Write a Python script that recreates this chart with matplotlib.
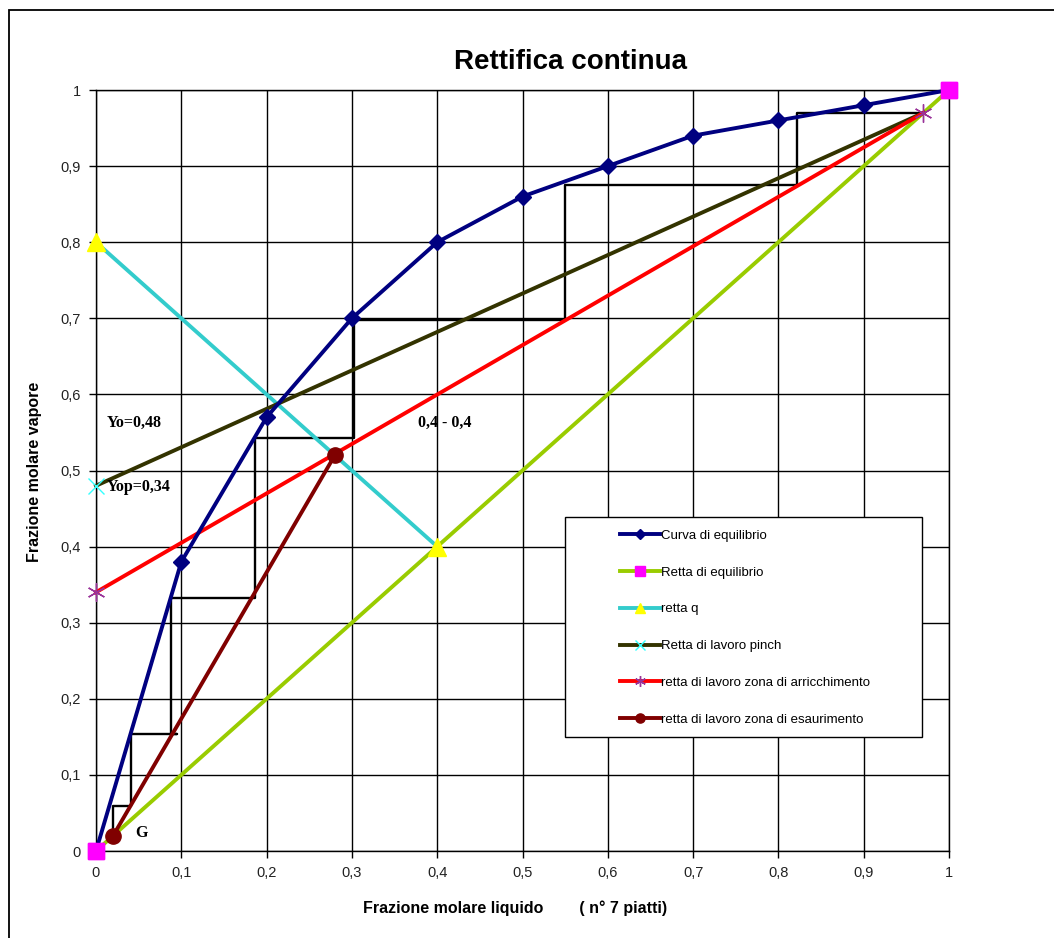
import matplotlib.pyplot as plt
from matplotlib.patches import Rectangle
import numpy as np

plt.rcParams['font.family'] = ['Liberation Sans', 'DejaVu Sans']

# curva di equilibrio
eq_x = [0, 0.1, 0.2, 0.3, 0.4, 0.5, 0.6, 0.7, 0.8, 0.9, 1.0]
eq_y = [0, 0.38, 0.57, 0.70, 0.80, 0.86, 0.90, 0.94, 0.96, 0.98, 1.0]

# retta di equilibrio (diagonale)
diag_x = [0, 1]
diag_y = [0, 1]

# retta q
q_x = [0, 0.4]
q_y = [0.8, 0.4]

# retta di lavoro pinch
pinch_x = [0, 0.97]
pinch_y = [0.48, 0.97]

# retta di lavoro zona di arricchimento
arr_x = [0, 0.97]
arr_y = [0.34, 0.97]

# retta di lavoro zona di esaurimento
esa_x = [0.02, 0.28]
esa_y = [0.02, 0.52]

# gradini (7 piatti)
step_x = [0.97, 0.822, 0.822, 0.55, 0.55, 0.302, 0.302, 0.186, 0.186,
          0.088, 0.088, 0.095, 0.041, 0.041, 0.020, 0.020]
step_y = [0.97, 0.97, 0.875, 0.875, 0.698, 0.698, 0.543, 0.543, 0.332,
          0.332, 0.154, 0.154, 0.154, 0.059, 0.059, 0.02]

ticks = np.arange(0, 1.01, 0.1)
tick_labels = ['0', '0,1', '0,2', '0,3', '0,4', '0,5', '0,6', '0,7', '0,8', '0,9', '1']

fig = plt.figure(figsize=(10.54, 9.38), dpi=100)
ax = fig.add_axes([96/1054, 87/938, 853/1054, 761/938])

# bordo dell'area grafico
fig.patches.append(Rectangle((9/1054, -0.1), 1.2, 0.1 + 928/938, transform=fig.transFigure,
                             fill=False, edgecolor='black', lw=1.3))

ax.set_xlim(0, 1)
ax.set_ylim(0, 1)
ax.set_xticks(ticks)
ax.set_yticks(ticks)
ax.set_xticklabels(tick_labels, fontsize=10.5, color='#222222')
ax.set_yticklabels(tick_labels, fontsize=10.5, color='#222222')
ax.tick_params(direction='out', length=5, width=1, pad=6)
ax.grid(True, color='black', lw=1)
for s in ax.spines.values():
    s.set_color('black')
    s.set_linewidth(1)

lw = 2.8
ax.plot(step_x, step_y, color='black', lw=1.7, zorder=3)
ax.plot(diag_x, diag_y, color='#99CC00', lw=lw, marker='s', ms=12,
        mfc='#FF00FF', mec='#FF00FF', clip_on=False, zorder=4, label='Retta di equilibrio')
ax.plot(q_x, q_y, color='#33CCCC', lw=lw, marker='^', ms=13,
        mfc='#FFFF00', mec='#FFFF00', clip_on=False, zorder=4, label='retta q')
ax.plot(pinch_x, pinch_y, color='#333300', lw=lw, marker='x', ms=11, mew=1, markevery=[0],
        mfc='#33FFFF', mec='#33FFFF', clip_on=False, zorder=4, label='Retta di lavoro pinch')
ax.plot(arr_x, arr_y, color='#FF0000', lw=lw, marker=(6, 2, 0), ms=13, mew=1,
        mec='#993399', clip_on=False, zorder=4, label='retta di lavoro zona di arricchimento')
ax.plot(esa_x, esa_y, color='#800000', lw=lw, marker='o', ms=11,
        mfc='#800000', mec='#800000', clip_on=False, zorder=4, label='retta di lavoro zona di esaurimento')
ax.plot(eq_x, eq_y, color='#000080', lw=lw, marker='D', ms=8.5,
        mfc='#000080', mec='#000080', clip_on=False, zorder=5, label='Curva di equilibrio')
# quadrati sopra la curva
ax.plot(diag_x, diag_y, ls='none', marker='s', ms=12, mfc='#FF00FF', mec='#FF00FF',
        clip_on=False, zorder=6)

handles, labels = ax.get_legend_handles_labels()
order = [5, 0, 1, 2, 3, 4]
leg = ax.legend([handles[i] for i in order], [labels[i] for i in order],
                loc='center', bbox_to_anchor=(0.761, 0.2935), frameon=False,
                fontsize=9.5, labelspacing=1.86, handlelength=3.0, handletextpad=0.1,
                markerscale=0.6)
leg.set_zorder(8)
ax.add_patch(Rectangle((0.55, 0.15), 0.418, 0.289, transform=ax.transAxes,
                       facecolor='white', edgecolor='black', lw=1, zorder=7, clip_on=False))

tfont = dict(family=['Liberation Serif', 'DejaVu Serif'], fontweight='bold', fontsize=11.5)
ax.text(0.013, 0.562, 'Yo=0,48', va='center', ha='left', zorder=6, **tfont)
ax.text(0.013, 0.478, 'Yop=0,34', va='center', ha='left', zorder=6, **tfont)
ax.text(0.378, 0.562, '0,4 - 0,4', va='center', ha='left', zorder=6, **tfont)
ax.text(0.046, 0.024, 'G', va='center', ha='left', zorder=6, **tfont)

fig.text(570/1054, 1 - 62/938, 'Rettifica continua', ha='center', va='center',
         fontsize=20, fontweight='bold')
fig.text(35/1054, 1 - 472/938, 'Frazione molare vapore', rotation=90, ha='center',
         va='center', fontsize=11.5, fontweight='bold')
fig.text(515/1054, 1 - 908/938, 'Frazione molare liquido        ( n° 7 piatti)',
         ha='center', va='center', fontsize=11.5, fontweight='bold')

fig.savefig('out.png', dpi=100)
